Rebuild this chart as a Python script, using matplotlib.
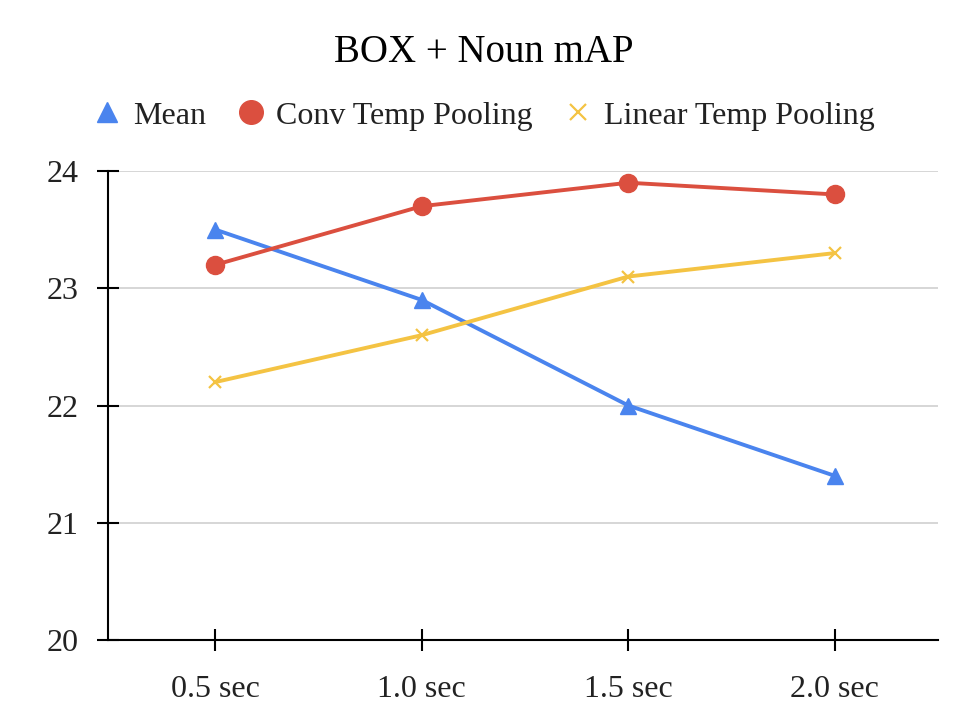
#!/usr/bin/env python3
"""Line chart: BOX + Noun mAP for three temporal pooling variants."""

import matplotlib

matplotlib.use("Agg")
import matplotlib.pyplot as plt

CATEGORIES = ["0.5 sec", "1.0 sec", "1.5 sec", "2.0 sec"]
MEAN = [23.5, 22.9, 22.0, 21.4]
CONV_TEMP = [23.2, 23.7, 23.9, 23.8]
LINEAR_TEMP = [22.2, 22.6, 23.1, 23.3]
Y_TICKS = [20, 21, 22, 23, 24]

BLUE = "#4A84EE"
RED = "#DB4F3F"
YELLOW = "#F4C343"


def main():
    plt.rcParams.update(
        {
            "font.family": ["Liberation Serif", "DejaVu Serif"],
            "text.color": "#222222",
        }
    )

    figure = plt.figure(figsize=(9.68, 7.2), dpi=100, facecolor="white")
    axis = figure.add_axes([0.1116, 0.1111, 0.969 - 0.1116, 0.7625 - 0.1111])

    x = list(range(len(CATEGORIES)))
    axis.plot(x, MEAN, color=BLUE, linewidth=2.8, marker="^", markersize=11,
              label="Mean", zorder=3)
    axis.plot(x, CONV_TEMP, color=RED, linewidth=2.8, marker="o", markersize=13,
              label="Conv Temp Pooling", zorder=3)
    axis.plot(x, LINEAR_TEMP, color=YELLOW, linewidth=2.8, marker="x", markersize=9,
              markeredgewidth=1.6, label="Linear Temp Pooling", zorder=3)

    axis.set_xlim(-0.52, 3.5)
    axis.set_ylim(20, 24)
    axis.set_xticks(x)
    axis.set_xticklabels(CATEGORIES)
    axis.set_yticks(Y_TICKS)

    for spine in ("top", "right"):
        axis.spines[spine].set_visible(False)
    for spine in ("left", "bottom"):
        axis.spines[spine].set_linewidth(1.5)
        axis.spines[spine].set_color("black")

    axis.grid(axis="y", color="#cccccc", linewidth=1.1, zorder=0)
    axis.set_axisbelow(True)
    axis.tick_params(axis="both", direction="inout", length=16, width=1.5,
                     labelsize=23, colors="black", labelcolor="#222222")
    axis.tick_params(axis="y", pad=13)
    axis.tick_params(axis="x", pad=17)

    figure.text(0.5, 1 - 52 / 720, "BOX + Noun mAP", ha="center", va="center",
                fontsize=28, color="black")

    handles, labels = axis.get_legend_handles_labels()
    legend_handles = []
    for handle, size in zip(handles, (14, 17, 11)):
        proxy = plt.Line2D([], [], linestyle="none", marker=handle.get_marker(),
                           color=handle.get_color(), markersize=size,
                           markeredgewidth=1.6 if handle.get_marker() == "x" else 1.0)
        legend_handles.append(proxy)
    figure.legend(
        legend_handles,
        labels,
        loc="center left",
        bbox_to_anchor=(91 / 968, 1 - 116 / 720),
        ncol=3,
        frameon=False,
        fontsize=23,
        handlelength=1.0,
        handletextpad=0.31,
        columnspacing=0.9,
        borderpad=0,
        borderaxespad=0,
    )

    figure.savefig("out.png", dpi=100, facecolor="white")
    plt.close(figure)


if __name__ == "__main__":
    main()
